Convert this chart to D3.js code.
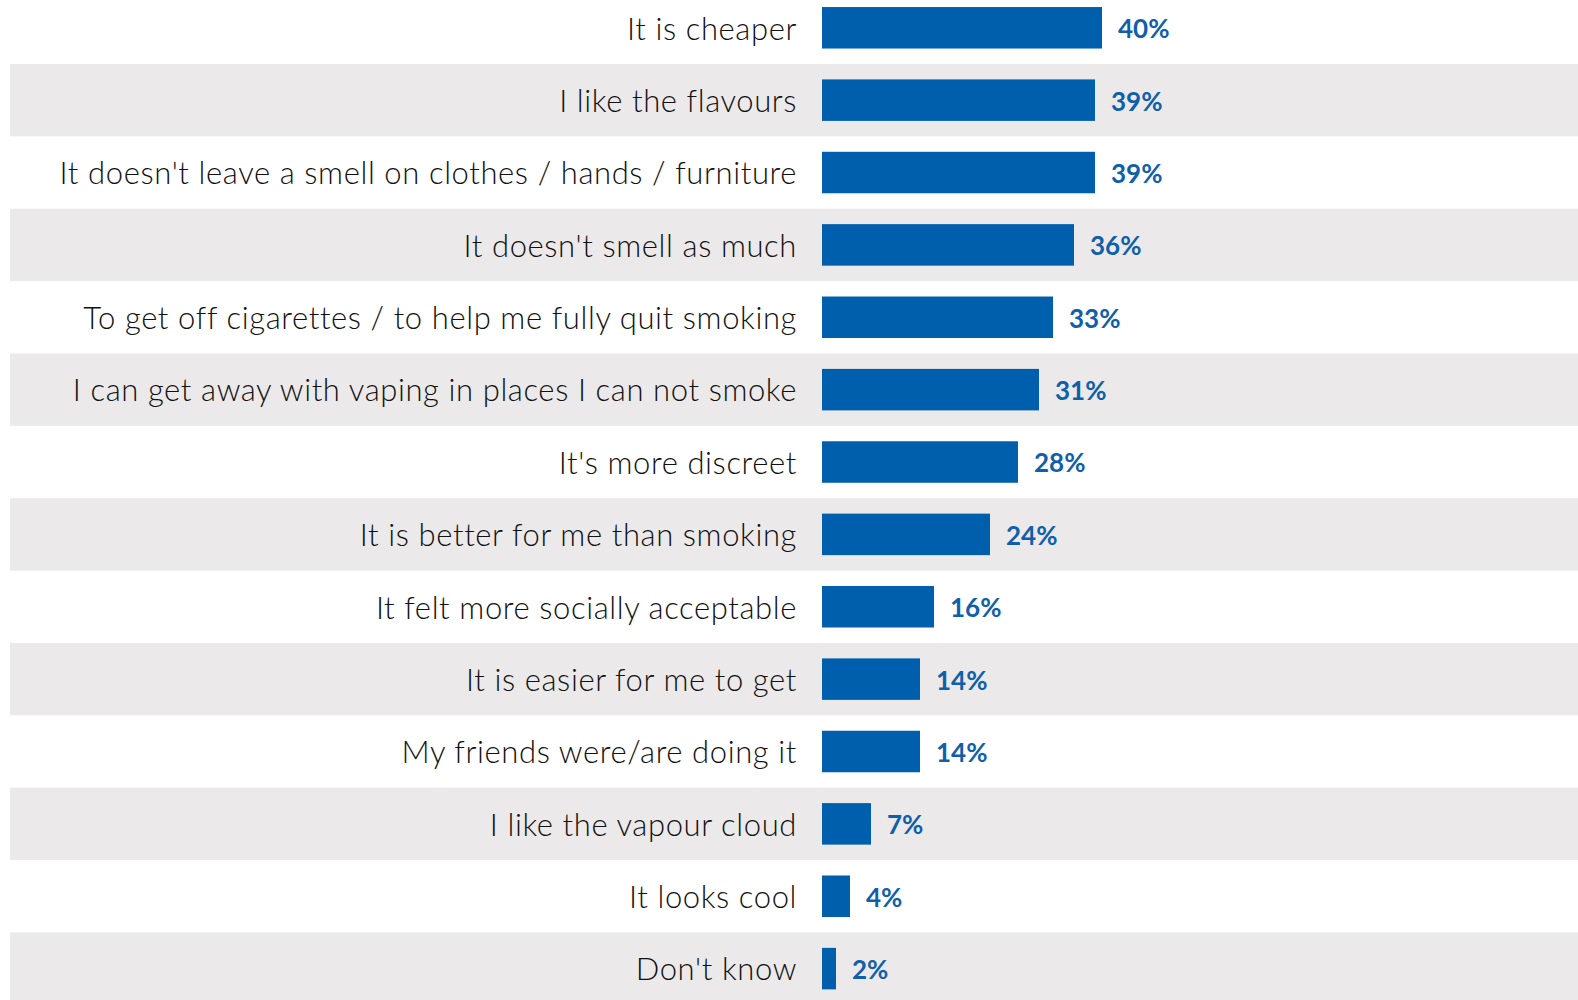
<!DOCTYPE html>
<html>
<head>
<meta charset="utf-8">
<script src="https://cdn.jsdelivr.net/npm/d3@7"></script>
<style>
  html, body { margin: 0; padding: 0; background: #ffffff; }
  svg { display: block; }
</style>
</head>
<body>
<div id="chart"></div>
<script>
// Reasons given for vaping, share of respondents
const reasons = [
  "It is cheaper",
  "I like the flavours",
  "It doesn't leave a smell on clothes / hands / furniture",
  "It doesn't smell as much",
  "To get off cigarettes / to help me fully quit smoking",
  "I can get away with vaping in places I can not smoke",
  "It's more discreet",
  "It is better for me than smoking",
  "It felt more socially acceptable",
  "It is easier for me to get",
  "My friends were/are doing it",
  "I like the vapour cloud",
  "It looks cool",
  "Don't know"
];
const shares = [40, 39, 39, 36, 33, 31, 28, 24, 16, 14, 14, 7, 4, 2];

const W = 1578, H = 1000;
const barColor = "#005FAC";
const stripeColor = "#EBE9EA";

const svg = d3.select("#chart").append("svg")
  .attr("width", W).attr("height", H);

const y = d3.scaleBand()
  .domain(reasons)
  .range([-8.4, 1004.8])
  .paddingInner(0).paddingOuter(0);

const x = d3.scaleLinear()
  .domain([0, 40])
  .range([822, 1102]);

const barH = 41.5;
const rows = reasons.map((r, i) => ({ reason: r, value: shares[i], i }));

// alternating stripes behind the rows
svg.append("g").selectAll("rect")
  .data(rows.filter(d => d.i % 2 === 1))
  .join("rect")
  .attr("x", 10)
  .attr("width", W - 10)
  .attr("y", d => y(d.reason))
  .attr("height", y.bandwidth())
  .attr("fill", stripeColor);

// bars
svg.append("g").selectAll("rect")
  .data(rows)
  .join("rect")
  .attr("x", x(0))
  .attr("width", d => x(d.value) - x(0))
  .attr("y", d => y(d.reason) + y.bandwidth() / 2 - barH / 2)
  .attr("height", barH)
  .attr("fill", barColor);

// category labels
svg.append("g").selectAll("text")
  .data(rows)
  .join("text")
  .attr("x", 797)
  .attr("y", d => y(d.reason) + y.bandwidth() / 2)
  .attr("dy", "0.38em")
  .attr("text-anchor", "end")
  .attr("font-family", "Lato, 'Open Sans', sans-serif")
  .attr("font-weight", 300)
  .attr("font-size", 31)
  .attr("letter-spacing", "0.6px")
  .attr("fill", "#111111")
  .text(d => d.reason);

// value labels
svg.append("g").selectAll("text")
  .data(rows)
  .join("text")
  .attr("x", d => x(d.value) + 16)
  .attr("y", d => y(d.reason) + y.bandwidth() / 2)
  .attr("dy", "0.4em")
  .attr("text-anchor", "start")
  .attr("font-family", "Lato, 'Open Sans', sans-serif")
  .attr("font-weight", "bold")
  .attr("font-size", 26)
  .attr("fill", "#0F5FAA")
  .text(d => d.value + "%");
</script>
</body>
</html>
